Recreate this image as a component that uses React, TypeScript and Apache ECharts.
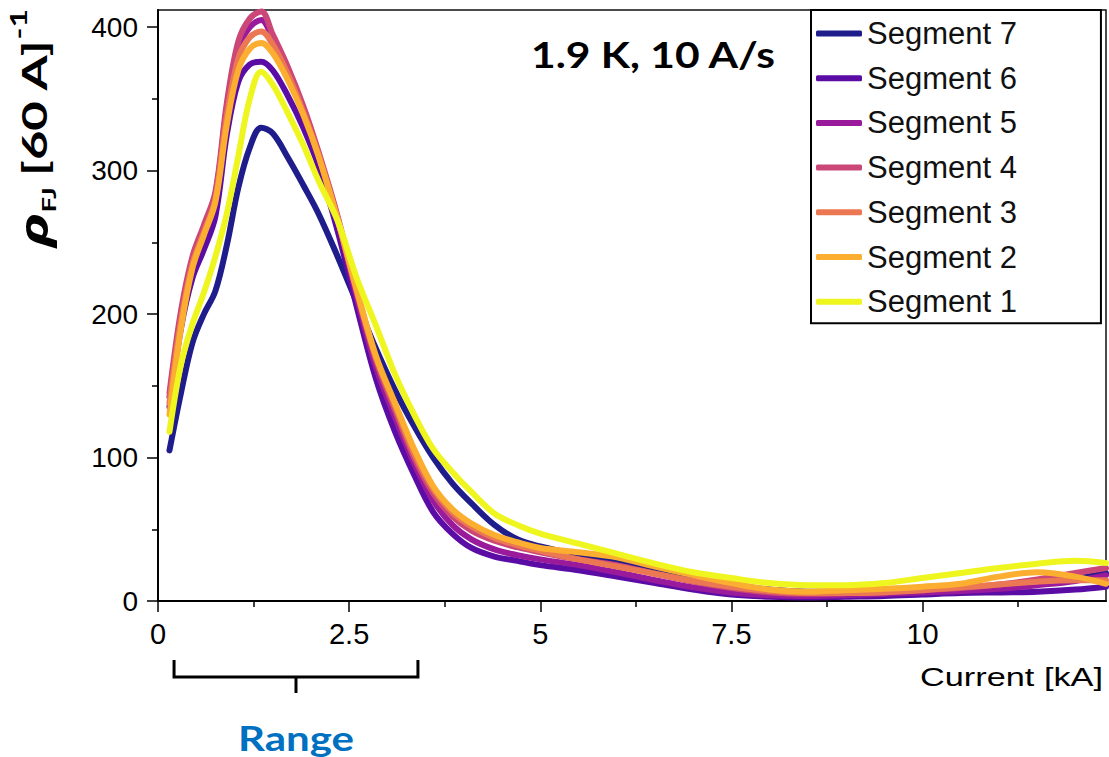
import React, { useEffect, useRef } from "react";
import * as echarts from "echarts";

// Current [kA]
const X_KA = [0.15, 0.3, 0.45, 0.6, 0.75, 0.9, 1.05, 1.2, 1.35, 1.5, 1.7, 1.9, 2.1, 2.35, 2.6, 2.85, 3.1, 3.35, 3.6, 3.85, 4.1, 4.4, 4.7, 5.0, 5.5, 6.0, 6.5, 7.0, 7.5, 8.0, 8.5, 9.0, 9.5, 10.0, 10.5, 11.0, 11.5, 12.0, 12.4];

const SEG7 = [105, 145, 180, 200, 216, 248, 288, 316, 330, 326, 309, 290, 270, 240, 208, 176, 147, 122, 100, 82, 68, 53, 43, 38, 32, 27, 21.5, 16, 11, 8, 6.5, 6.5, 7.5, 8, 9, 10.5, 12.5, 15.5, 19.5];
const SEG6 = [135, 190, 225, 245, 268, 325, 362, 374, 376, 370, 352, 330, 303, 258, 205, 155, 118, 88, 62, 47, 37, 31, 28, 25, 21.5, 17, 12.5, 8, 4.5, 3, 2.5, 3, 3.5, 4.5, 5.5, 6, 6.5, 8, 10];
const SEG5 = [142, 198, 238, 260, 283, 343, 385, 400, 405, 392, 368, 342, 310, 265, 212, 163, 128, 96, 70, 53, 43, 36, 32, 29, 25, 20, 14.5, 9.5, 6, 4, 3.5, 4, 5, 6, 7, 8.5, 11, 14, 18];
const SEG4 = [145, 202, 240, 262, 285, 347, 390, 406, 411, 395, 372, 345, 313, 268, 215, 168, 133, 100, 75, 59, 49, 42, 37.5, 34, 29, 25, 19, 13.5, 9, 6, 5, 5.5, 6.5, 7.5, 9, 11.5, 15, 19.5, 23];
const SEG3 = [138, 195, 235, 257, 280, 338, 378, 393, 397, 388, 367, 341, 311, 266, 216, 170, 136, 103, 78, 62, 52, 44, 39, 35, 29, 24, 19, 14, 10, 7, 5.5, 5.5, 6, 7.5, 9.5, 11.5, 13.5, 14.5, 14.5];
const SEG2 = [130, 190, 232, 255, 278, 332, 370, 385, 389, 382, 363, 339, 310, 266, 217, 171, 138, 106, 80, 64, 54, 46, 41, 37, 34, 30.5, 24, 18, 12.5, 8, 6.5, 7.5, 8.5, 10, 12, 17, 20, 17, 12];
const SEG1 = [118, 165, 193, 215, 240, 270, 310, 350, 369, 360, 340, 318, 293, 265, 225, 192, 158, 130, 106, 90, 76, 61, 53, 47, 40, 33, 26, 20, 16, 12.5, 11, 11, 12.5, 16, 19.5, 23, 26, 28, 26.5];

const SERIES_NAMES = ["Segment 7", "Segment 6", "Segment 5", "Segment 4", "Segment 3", "Segment 2", "Segment 1"];
const SERIES_VALUES = [SEG7, SEG6, SEG5, SEG4, SEG3, SEG2, SEG1];
const COLORS = ["#1f1c8c", "#5b0ca5", "#9a1a9c", "#cb4778", "#ec7853", "#fbae2f", "#eef51f"];

const X_LABELS = [0, 2.5, 5, 7.5, 10];
const X_MINOR = [1.25, 3.75, 6.25, 8.75, 11.25];
const Y_LABELS = [0, 100, 200, 300, 400];
const Y_MINOR = [50, 150, 250, 350];
const X_MAX = 12.4;
const Y_MAX = 412;

const RANGE = [0.21, 3.4];

const TICK_FONT = "'Liberation Sans', Arial, sans-serif";

export default function App() {
  const ref = useRef<HTMLDivElement>(null);
  useEffect(() => {
    if (!ref.current) return;
    const chart = echarts.init(ref.current, undefined, { renderer: "svg" });
    const series = SERIES_VALUES.map((vals, i) => ({
      name: SERIES_NAMES[i],
      type: "line",
      xAxisIndex: 0,
      yAxisIndex: 0,
      data: vals.map((v, j) => [X_KA[j], v]),
      smooth: 0.35,
      symbol: "none",
      lineStyle: { width: 6, color: COLORS[i], cap: "round", join: "round" },
      itemStyle: { color: COLORS[i] },
      z: 2 + i,
    }));
    chart.setOption({
      animation: false,
      backgroundColor: "#fff",
      grid: {
        left: 158,
        top: 10,
        right: 3,
        bottom: 156,
        show: true,
        borderColor: "#111",
        borderWidth: 1.5,
      },
      xAxis: [
        {
          type: "value",
          min: 0,
          max: X_MAX,
          position: "bottom",
          axisLine: { show: true, lineStyle: { color: "#000", width: 2 } },
          axisTick: { show: true, customValues: X_LABELS, length: 11, lineStyle: { color: "#000", width: 1.5 } },
          axisLabel: { customValues: X_LABELS, fontSize: 29, color: "#000", fontFamily: TICK_FONT, margin: 18 },
          splitLine: { show: false },
        },
        {
          type: "value",
          min: 0,
          max: X_MAX,
          position: "bottom",
          axisLine: { show: false },
          axisTick: { show: true, customValues: X_MINOR, length: 6, lineStyle: { color: "#000", width: 1.5 } },
          axisLabel: { show: false },
          splitLine: { show: false },
        },
      ],
      yAxis: [
        {
          type: "value",
          min: 0,
          max: Y_MAX,
          position: "left",
          axisLine: { show: true, lineStyle: { color: "#000", width: 2 } },
          axisTick: { show: true, customValues: Y_LABELS, length: 11, lineStyle: { color: "#000", width: 1.5 } },
          axisLabel: { customValues: Y_LABELS, fontSize: 28, color: "#000", fontFamily: TICK_FONT, margin: 20 },
          splitLine: { show: false },
        },
        {
          type: "value",
          min: 0,
          max: Y_MAX,
          position: "left",
          axisLine: { show: false },
          axisTick: { show: true, customValues: Y_MINOR, length: 6, lineStyle: { color: "#000", width: 1.5 } },
          axisLabel: { show: false },
          splitLine: { show: false },
        },
      ],
      legend: {
        orient: "vertical",
        left: 811,
        top: 10,
        data: SERIES_NAMES,
        icon: "roundRect",
        itemWidth: 46,
        itemHeight: 6,
        itemGap: 13.7,
        padding: [8, 84, 6, 5],
        borderColor: "#000",
        borderWidth: 2,
        backgroundColor: "#fff",
        textStyle: { fontSize: 31, lineHeight: 31, color: "#111", fontFamily: TICK_FONT },
      },
      series,
    });

    const xs = RANGE.map((v) => chart.convertToPixel({ xAxisIndex: 0 }, v) as number);
    const xMid = (xs[0] + xs[1]) / 2;
    chart.setOption({
      graphic: [
        {
          type: "text",
          x: 653,
          y: 54,
          scaleX: 1.15,
          style: {
            text: "1.9 K, 10 A/s",
            font: "bold 37px Lato, 'Open Sans', sans-serif",
            fill: "#000",
            align: "center",
            verticalAlign: "middle",
            textAlign: "center",
            textVerticalAlign: "middle",
          },
        },
        {
          type: "text",
          x: 1103,
          y: 677,
          scaleX: 1.32,
          style: {
            text: "Current [kA]",
            font: `26px ${TICK_FONT}`,
            fill: "#000",
            align: "right",
            verticalAlign: "middle",
            textAlign: "right",
            textVerticalAlign: "middle",
          },
        },
        {
          type: "text",
          x: xMid,
          y: 737,
          scaleX: 1.2,
          style: {
            text: "Range",
            font: "bold 35px Lato, 'Open Sans', sans-serif",
            fill: "#0070c0",
            align: "center",
            verticalAlign: "middle",
            textAlign: "center",
            textVerticalAlign: "middle",
          },
        },
        {
          type: "polyline",
          shape: { points: [[xs[0], 660], [xs[0], 677], [xs[1], 677], [xs[1], 660]] },
          style: { stroke: "#000", lineWidth: 3, fill: null },
        },
        {
          type: "line",
          shape: { x1: xMid, y1: 677, x2: xMid, y2: 693 },
          style: { stroke: "#000", lineWidth: 3 },
        },
        {
          type: "text",
          x: 33,
          y: 128,
          rotation: Math.PI / 2,
          scaleX: 1.45,
          style: {
            text: "{rho|ρ}{sub|FJ}{gap| }{main|[60 A]}{sup|-1}",
            align: "center",
            verticalAlign: "middle",
            textAlign: "center",
            textVerticalAlign: "middle",
            fill: "#000",
            rich: {
              rho: { fontSize: 40, fontStyle: "italic", fontWeight: "bold", fontFamily: "'Open Sans', 'DejaVu Sans', sans-serif", lineHeight: 50, verticalAlign: "middle", fill: "#000" },
              sub: { fontSize: 19, fontWeight: "bold", fontFamily: "Lato, sans-serif", lineHeight: 19, verticalAlign: "bottom", fill: "#000" },
              gap: { fontSize: 28, fontFamily: "Lato, sans-serif", lineHeight: 50, verticalAlign: "middle" },
              main: { fontSize: 35, fontWeight: "bold", fontFamily: "Lato, sans-serif", lineHeight: 50, verticalAlign: "middle", fill: "#000" },
              sup: { fontSize: 22, fontWeight: "bold", fontFamily: "Lato, sans-serif", lineHeight: 22, verticalAlign: "top", fill: "#000" },
            },
          },
        },
      ],
    });

    return () => chart.dispose();
  }, []);
  return (
    <div
      ref={ref}
      style={{ position: "fixed", left: 0, top: 0, width: 1109, height: 757 }}
    />
  );
}
